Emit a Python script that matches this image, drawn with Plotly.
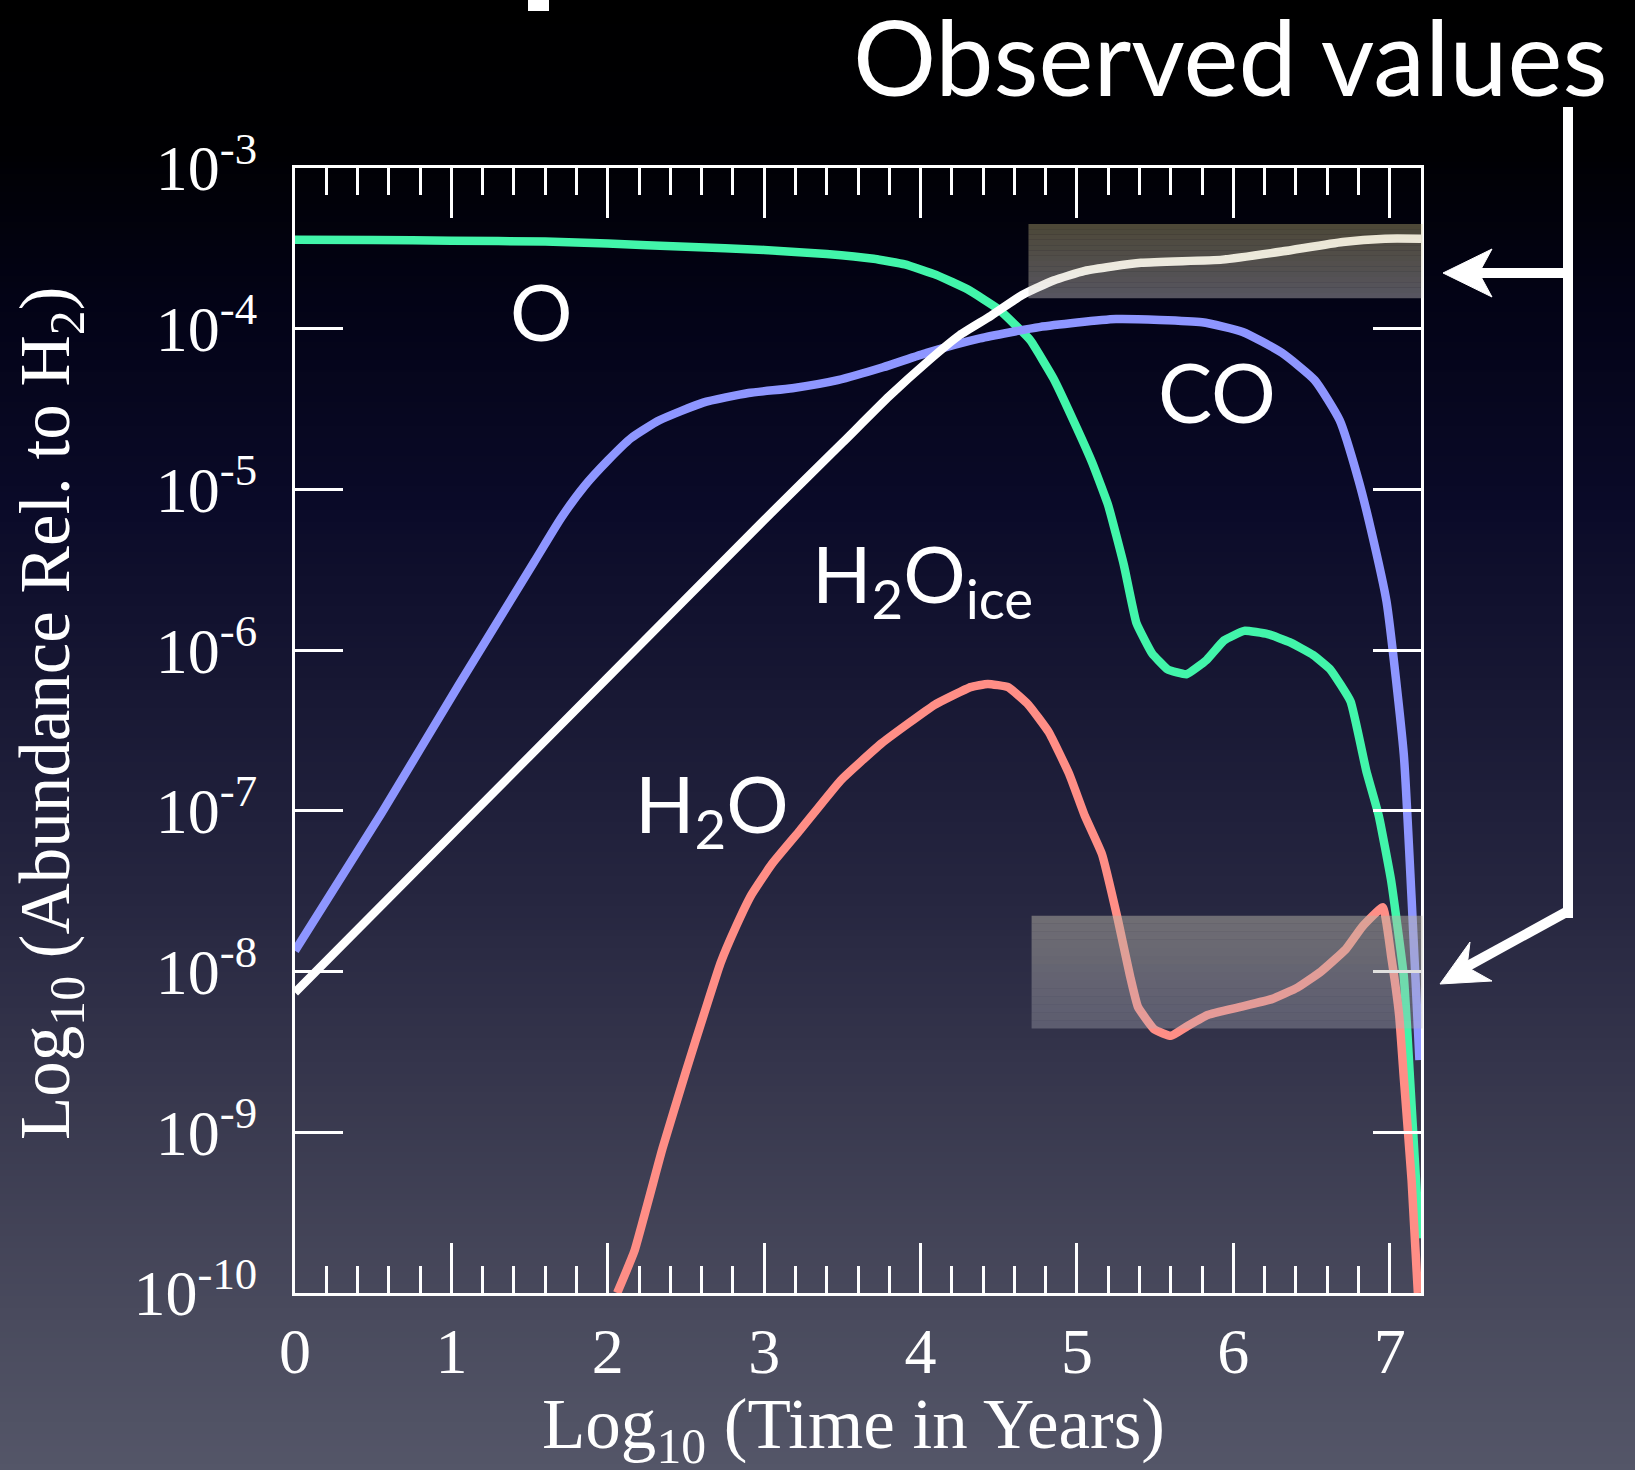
import numpy as np
import plotly.graph_objects as go

# ---------------- data (log10 abundance) ----------------
O_t = [0, 0.5, 1.0, 1.6, 2.0, 2.5, 3.0, 3.4, 3.7, 3.9, 4.1, 4.3, 4.5, 4.7, 4.85, 5.0,
       5.1, 5.2, 5.3, 5.38, 5.48, 5.58, 5.70, 5.83, 5.94, 6.07, 6.22, 6.36, 6.51, 6.62,
       6.75, 6.85, 6.93, 7.01, 7.09, 7.13, 7.19]
O_log = [-3.447, -3.448, -3.452, -3.458, -3.47, -3.49, -3.51, -3.535, -3.565, -3.60,
         -3.665, -3.755, -3.88, -4.07, -4.31, -4.62, -4.84, -5.10, -5.47, -5.83, -6.02,
         -6.12, -6.15, -6.06, -5.94, -5.88, -5.90, -5.95, -6.03, -6.12, -6.32, -6.75,
         -7.03, -7.44, -8.03, -8.67, -9.66]

CO_t = [0, 0.556, 1.045, 1.53, 1.70, 1.85, 2.0, 2.15, 2.33, 2.61, 2.90, 3.18, 3.47, 3.76,
        4.04, 4.38, 4.76, 5.25, 5.80, 6.06, 6.31, 6.52, 6.68, 6.80, 6.88, 6.98, 7.09,
        7.14, 7.19]
CO_log = [-7.87, -7.01, -6.22, -5.45, -5.18, -4.98, -4.82, -4.68, -4.57, -4.46, -4.40,
          -4.37, -4.32, -4.24, -4.15, -4.06, -3.99, -3.94, -3.96, -4.02, -4.15, -4.32,
          -4.57, -4.94, -5.25, -5.70, -6.65, -7.55, -8.55]

ICE_t = [0, 1, 2, 3, 3.5, 3.8, 4.05, 4.25, 4.45, 4.65, 4.85, 5.05, 5.41, 5.93, 6.31,
         6.70, 6.97, 7.2]
ICE_log = [-8.13, -7.15, -6.17, -5.19, -4.71, -4.42, -4.20, -4.04, -3.92, -3.79, -3.70,
           -3.64, -3.59, -3.57, -3.52, -3.46, -3.44, -3.44]

H2O_t = [2.06, 2.17, 2.35, 2.50, 2.62, 2.72, 2.82, 2.92, 3.05, 3.23, 3.49, 3.75, 4.09,
         4.32, 4.43, 4.56, 4.69, 4.82, 4.95, 5.05, 5.16, 5.26, 5.34, 5.39, 5.495, 5.60,
         5.705, 5.835, 6.045, 6.25, 6.41, 6.56, 6.72, 6.825, 6.956, 7.01, 7.06, 7.09,
         7.14, 7.18]
H2O_log = [-10.0, -9.74, -9.10, -8.62, -8.25, -7.95, -7.72, -7.52, -7.33, -7.12, -6.81,
           -6.58, -6.34, -6.23, -6.21, -6.23, -6.34, -6.51, -6.77, -7.03, -7.27, -7.67,
           -8.03, -8.22, -8.36, -8.40, -8.34, -8.27, -8.22, -8.17, -8.10, -8.00, -7.86,
           -7.72, -7.60, -7.91, -8.27, -8.66, -9.30, -10.0]

# observed-value bands (time range, log10 abundance range)
OBS_HI_t = [4.69, 7.21]
OBS_HI_log = [-3.81, -3.348]
OBS_LO_t = [4.71, 7.21]
OBS_LO_log = [-8.354, -7.652]

X_TICKS = [0, 1, 2, 3, 4, 5, 6, 7]
Y_EXP = [-10, -9, -8, -7, -6, -5, -4, -3]

# ---------------- layout geometry ----------------
W, H = 1635, 1470
L, R, T, B = 295, 1421, 168, 1293


def X(px):
    return (px - L) / (R - L)


def Y(py):
    return 1 - (py - T) / (B - T)


fig = go.Figure()

series = [
    (O_t, O_log, "#42F5AA", "spline", 0.35),
    (CO_t, CO_log, "#8E96FF", "spline", 0.5),
    (ICE_t, ICE_log, "#FFFFFF", "spline", 0.5),
    (H2O_t, H2O_log, "#FF8E86", "spline", 0.35),
]
for t, lg, col, shape, sm in series:
    fig.add_trace(go.Scatter(
        x=t, y=np.power(10.0, np.array(lg)), mode="lines",
        line=dict(color=col, width=8.5, shape=shape, smoothing=sm),
        showlegend=False, hoverinfo="skip"))

shapes = []

# background vertical gradient
stops_y = [0, 150, 300, 500, 700, 900, 1100, 1300, 1470]
stops_c = [(0, 0, 0), (0, 0, 3), (3, 3, 22), (10, 10, 40), (24, 24, 52), (38, 38, 64),
           (56, 56, 78), (72, 73, 92), (84, 86, 104)]
step = 6
for y0 in range(0, H, step):
    yc = y0 + step / 2
    c = [int(round(np.interp(yc, stops_y, [s[i] for s in stops_c]))) for i in range(3)]
    shapes.append(dict(type="rect", xref="paper", yref="paper", layer="below",
                       x0=X(0), x1=X(W), y0=Y(y0), y1=Y(min(y0 + step + 1, H)),
                       fillcolor=f"rgb({c[0]},{c[1]},{c[2]})", line=dict(width=0)))


def band(t_rng, lg_rng, ctop, cbot, n=14):
    x0 = L + t_rng[0] * (R - L) / 7.2
    x1 = L + t_rng[1] * (R - L) / 7.2
    ytop = T + (-3 - lg_rng[1]) * (B - T) / 7
    ybot = T + (-3 - lg_rng[0]) * (B - T) / 7
    hgt = (ybot - ytop) / n
    for k in range(n):
        f = (k + 0.5) / n
        c = [ctop[i] + (cbot[i] - ctop[i]) * f for i in range(4)]
        shapes.append(dict(type="rect", xref="paper", yref="paper", layer="above",
                           x0=X(x0), x1=X(x1), y0=Y(ytop + k * hgt),
                           y1=Y(ytop + (k + 1) * hgt),
                           fillcolor=f"rgba({int(c[0])},{int(c[1])},{int(c[2])},{c[3]:.3f})",
                           line=dict(width=0)))


band(OBS_HI_t, OBS_HI_log, (200, 186, 128, 0.38), (215, 212, 210, 0.40))
band(OBS_LO_t, OBS_LO_log, (185, 180, 165, 0.50), (180, 180, 190, 0.33))

# arrows
def line(x0, y0, x1, y1, w=10):
    shapes.append(dict(type="line", xref="paper", yref="paper", layer="above",
                       x0=X(x0), y0=Y(y0), x1=X(x1), y1=Y(y1),
                       line=dict(color="white", width=w)))


def poly(pts):
    d = "M " + " L ".join(f"{X(a):.5f},{Y(b):.5f}" for a, b in pts) + " Z"
    shapes.append(dict(type="path", xref="paper", yref="paper", layer="above", path=d,
                       fillcolor="white", line=dict(color="white", width=1)))


line(1568, 107, 1568, 918)
line(1572, 273, 1478, 273)
poly([(1443, 273), (1492, 249), (1479, 273), (1492, 297)])
line(1570, 910, 1466, 967)
poly([(1440, 984), (1470, 942), (1467, 967), (1492, 981)])
# fragment of the cut-off slide title
shapes.append(dict(type="rect", xref="paper", yref="paper", layer="above",
                   x0=X(528), x1=X(549), y0=Y(0), y1=Y(11),
                   fillcolor="white", line=dict(width=0)))

annotations = []


def text(px, py, s, size, fam, xanchor="center", yanchor="middle", angle=0):
    annotations.append(dict(x=X(px), y=Y(py), xref="paper", yref="paper", text=s,
                            showarrow=False, xanchor=xanchor, yanchor=yanchor,
                            textangle=angle,
                            font=dict(family=fam, size=size, color="white")))


SANS = "Lato"
SERIF = "Liberation Serif"
text(1609, 56, "Observed values", 104, SANS, xanchor="right")
text(541, 311, "O", 78, SANS)
text(1217, 391, "CO", 81, SANS)
text(922, 578, "H<sub>2</sub>O<sub>ice</sub>", 78, SANS)
text(712, 808, "H<sub>2</sub>O", 78, SANS)
text(853, 1429, "Log<sub>10</sub> (Time in Years)", 71, SERIF)
text(50, 714, "Log<sub>10</sub> (Abundance Rel. to H<sub>2</sub>)", 71, SERIF, angle=-90)

axis_common = dict(showline=True, linecolor="white", linewidth=3, mirror="allticks",
                   ticks="inside", tickcolor="white", tickwidth=3, showgrid=False,
                   zeroline=False,
                   tickfont=dict(family=SERIF, size=64, color="white"))

fig.update_layout(
    width=W, height=H,
    margin=dict(l=L, r=W - R, t=T, b=H - B, pad=0),
    paper_bgcolor="rgba(0,0,0,0)", plot_bgcolor="rgba(0,0,0,0)",
    shapes=shapes, annotations=annotations,
    xaxis=dict(range=[0, 7.2], tickvals=X_TICKS, ticktext=[str(v) for v in X_TICKS],
               ticklen=50, ticklabelstandoff=0,
               minor=dict(ticks="inside", ticklen=27, dtick=0.2, tick0=0,
                          tickcolor="white", tickwidth=3, showgrid=False),
               **axis_common),
    yaxis=dict(type="log", range=[-10, -3], tickvals=[10.0 ** e for e in Y_EXP],
               ticktext=[f"10<sup>{e}</sup>" for e in Y_EXP], ticklen=48,
               ticklabelstandoff=22, **axis_common),
)

fig.write_html("out.html")
